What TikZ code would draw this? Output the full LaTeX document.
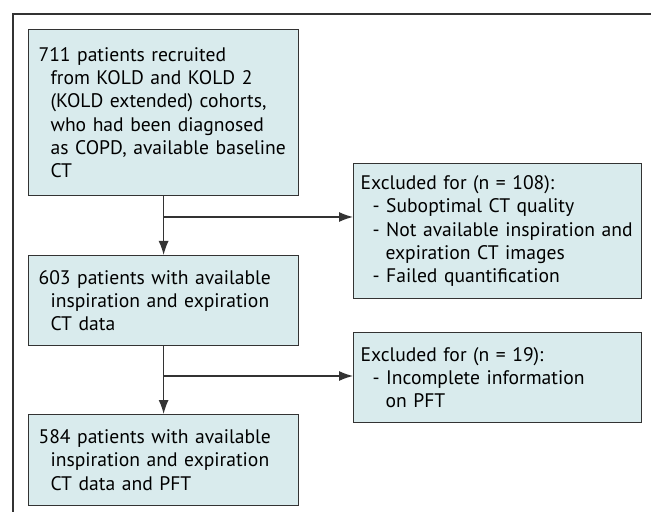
\documentclass[tikz,border=0pt]{standalone}
\usepackage{fontspec}
\setmainfont{PT Sans}
\usetikzlibrary{arrows.meta}
\definecolor{boxfill}{HTML}{D9EBED}
\definecolor{boxline}{HTML}{333333}
\newcommand{\ind}{\hspace*{6pt}}
\newcommand{\indd}{\hspace*{12.5pt}}

\begin{document}
\begin{tikzpicture}[x=0.5pt,y=-0.5pt]
        \tikzset{box/.style = {shape=rectangle,draw=boxline,fill=boxfill,line width=0.6pt,
                 anchor=north west,align=left,inner xsep=5pt,inner ysep=0pt,
                 font=\fontsize{9.8}{11.6}\selectfont}}
        \tikzset{mainbox/.style = {box,text width=125pt,minimum width=135pt}}
        \tikzset{exbox/.style = {box,inner xsep=3.5pt,text width=137pt,minimum width=144pt}}
        \tikzset{edge/.style = {line width=0.6pt,draw=boxline}}
        \tikzset{edged/.style = {-{Latex[length=7pt,width=5pt]},line width=0.6pt,draw=boxline}}
        \useasboundingbox (0,0) rectangle (651,512);
        % frame
        \draw[edge] (13,512) |- (651,14);
        % boxes
        \node[mainbox,minimum height=83pt] (kold) at (28,29)
          {711 patients recruited\\\ind from KOLD and KOLD 2\\\ind (KOLD extended) cohorts,\\\ind who had been diagnosed\\\ind as COPD, available baseline\\\ind CT};
        \node[mainbox,minimum height=45pt] (ct) at (28,255)
          {603 patients with available\\\ind inspiration and expiration\\\ind CT data};
        \node[mainbox,minimum height=45.5pt] (pft) at (28,414)
          {584 patients with available\\\ind inspiration and expiration\\\ind CT data and PFT};
        \node[exbox,minimum height=67.5pt] (ex1) at (353,163)
          {Excluded for (n = 108):\\\ind - Suboptimal CT quality\\\ind - Not available inspiration and\\\indd expiration CT images\\\ind - Failed quantification};
        \node[exbox,minimum height=45pt] (ex2) at (353,332)
          {Excluded for (n = 19):\\\ind - Incomplete information\\\indd on PFT};

        % branch points
        \coordinate (br1) at (kold.south |- 0,217);
        \coordinate (br2) at (ct.south |- 0,376);
        % edges
        \draw[edged] (kold) -- (ct);
        \draw[edged] (ct) -- (pft);
        \draw[edged] (br1) -- (ex1.west |- br1);
        \draw[edged] (br2) -- (ex2.west |- br2);
\end{tikzpicture}
\end{document}
